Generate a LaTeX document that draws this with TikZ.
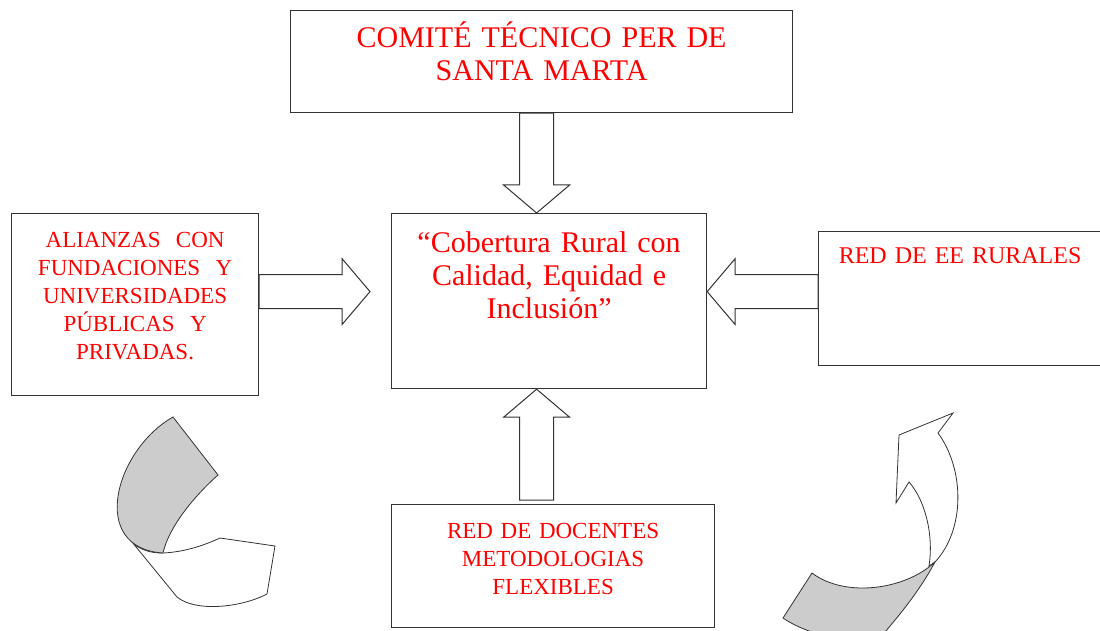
\documentclass[tikz,border=0pt]{standalone}
\usepackage{fontspec}
\setmainfont{Liberation Serif}
\usetikzlibrary{calc}

\tikzset{
  caja/.style={draw=black!80, line width=1.2pt, anchor=north west, inner sep=0pt, align=center, text=red},
  flecha/.style={draw=black!80, line width=1pt, fill=white, to path={
    ($(\tikztotarget)!28pt!(\tikztostart)$) coordinate (fb)
    ($(\tikztostart)!17pt!90:(\tikztotarget)$) -- ($(fb)!17pt!-90:(\tikztostart)$)
    -- ($(fb)!33pt!-90:(\tikztostart)$) -- (\tikztotarget) -- ($(fb)!33pt!90:(\tikztostart)$)
    -- ($(fb)!17pt!90:(\tikztostart)$) -- ($(\tikztostart)!17pt!-90:(\tikztotarget)$) -- cycle}},
  doblez/.style={draw=black!80, line width=0.8pt, fill=black!20}
}

\begin{document}
\begin{tikzpicture}[x=1pt,y=-1pt]
\useasboundingbox (0,0) rectangle (1100,631);

\node[caja, text width=502pt, text height=37pt, text depth=65pt, font=\fontsize{30}{33}\selectfont] (comite) at (290,10) {COMITÉ TÉCNICO PER DE\\SANTA MARTA};

\node[caja, text width=315pt, text height=39pt, text depth=136pt, font=\fontsize{30}{33}\selectfont] (cobertura) at (391,213) {“Cobertura Rural con\\Calidad, Equidad e\\Inclusión”};

\node[caja, text width=247pt, text height=34pt, text depth=148pt, font=\fontsize{23}{28}\selectfont] (alianzas) at (11,213) {ALIANZAS~ CON\\FUNDACIONES~ Y\\UNIVERSIDADES\\PÚBLICAS~ Y\\PRIVADAS.};

\node[caja, text width=283pt, text height=32pt, text depth=102pt, font=\fontsize{24}{28}\selectfont] (rurales) at (818,231) {RED DE EE RURALES};

\node[caja, text width=323pt, text height=34pt, text depth=89pt, font=\fontsize{23}{28}\selectfont] (docentes) at (391,504) {RED DE DOCENTES\\METODOLOGIAS\\FLEXIBLES};

\draw[flecha] ([xshift=-5pt]comite.south) to ([xshift=-12.5pt]cobertura.north);
\draw[flecha] ([xshift=-16.5pt,yshift=4pt]docentes.north) to ([xshift=-12.5pt]cobertura.south);
\draw[flecha] ([yshift=13pt]alianzas.east) to ([xshift=-21pt,yshift=9.5pt]cobertura.west);
\draw[flecha] ([yshift=7pt]rurales.west) to ([yshift=9.5pt]cobertura.east);

% cinta izquierda
\draw[doblez, fill=white] (163,553) .. controls (185,552) and (205,545) .. (220,538) -- (275,546) -- (267,594)
  .. controls (240,608) and (195,612) .. (177,597) -- (132,542) .. controls (140,550) and (150,553) .. (163,553) -- cycle;
\draw[doblez] (173,417) -- (218,475) .. controls (190,500) and (168,530) .. (163,553)
  .. controls (88,548) and (115,450) .. (173,417) -- cycle;

% cinta derecha
\draw[doblez, fill=white] (929,566) .. controls (934,535) and (925,500) .. (909,482) -- (896,503) -- (899,435)
  -- (953,413) -- (938,433) .. controls (965,470) and (965,530) .. (935,562) -- cycle;
\draw[doblez] (812,573) -- (783,618) .. controls (800,630) and (840,645) .. (878,640)
  .. controls (900,615) and (920,590) .. (935,562) .. controls (905,590) and (845,598) .. (812,573) -- cycle;
\end{tikzpicture}
\end{document}
